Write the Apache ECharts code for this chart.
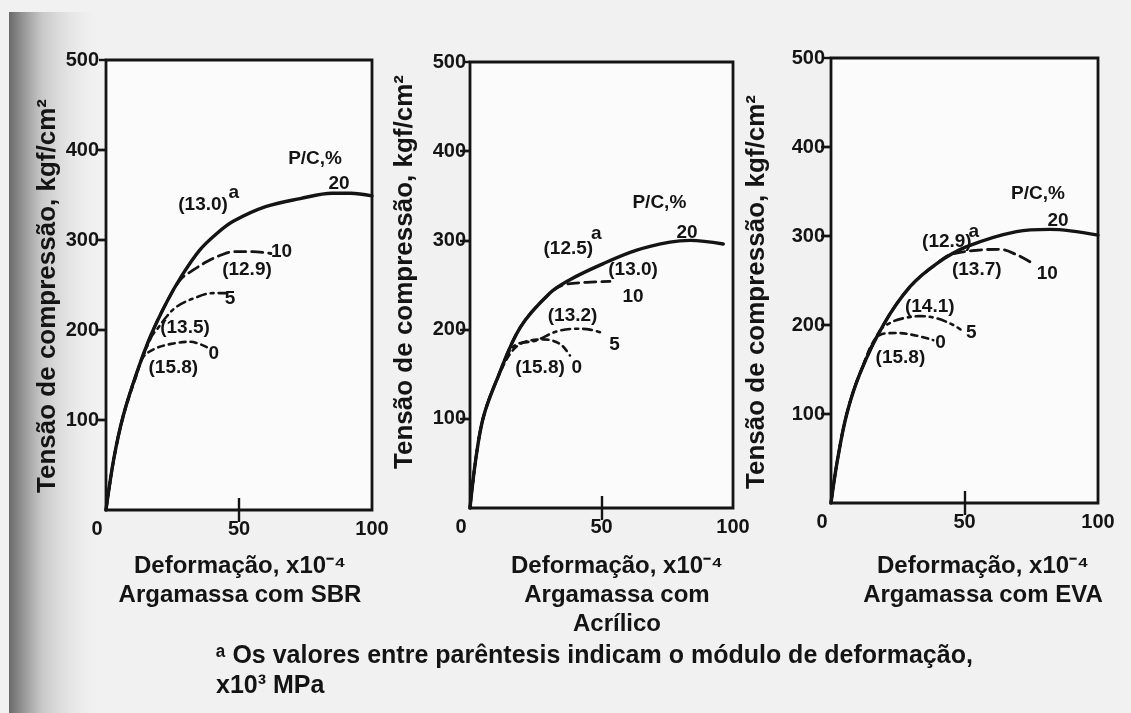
<!DOCTYPE html>
<html>
<head>
<meta charset="utf-8">
<script src="https://cdn.jsdelivr.net/npm/echarts@6/dist/echarts.min.js"></script>
<style>
html,body{margin:0;padding:0;background:#f1f1f1;}
#chart{width:1131px;height:713px;}
</style>
</head>
<body>
<div id="chart"></div>
<script>
// ---------- DATA ----------
// x: Deformação (x10^-4), y: Tensão de compressão (kgf/cm²)
const xTicks = [0, 50, 100];
const yTicks = [100, 200, 300, 400, 500];

// Argamassa com SBR
const sbr20 = [[0,0],[3,58],[6.5,105],[11.5,152],[17,195],[23,232],[28,258],[35,288],[42,308],[48,321],[60,337],[73,346],[85,352],[92,352],[100,349]];
const sbr10 = [[0,0],[3,58],[6.5,105],[11.5,152],[17,195],[23,232],[28,256],[33,267],[38,276],[43,283],[48,287],[55,287],[62,285]];
const sbr5  = [[0,0],[3,58],[6.5,105],[11.5,152],[17,192],[19.5,202],[22.8,215],[26.6,226],[32.8,235],[40.3,241],[45.4,241]];
const sbr0  = [[0,0],[3,57],[6.5,104],[11.5,150],[14,170],[19,180],[25.3,185],[31.6,187],[37.9,181]];
const sbrNotes = [
  ['P/C,%', 78.6, 390], ['20', 87.6, 362], ['(13.0)', 36.5, 339], ['a', 48, 353],
  ['(12.9)', 53, 267], ['10', 66, 287], ['5', 46.6, 235], ['(13.5)', 29.7, 203],
  ['0', 40.5, 174], ['(15.8)', 25.3, 158]
];

// Argamassa com Acrílico
const acr20 = [[0,0],[2.3,57],[5.1,102],[10.1,143],[19,202],[30.4,241],[38,256],[50.7,274],[63.4,289],[76,298],[83.7,300],[96.3,296]];
const acr10 = [[0,0],[2.3,57],[5.1,102],[10.1,143],[19,202],[30.4,241],[35.5,250],[44.4,253],[53.2,254]];
const acr5  = [[0,0],[2.3,57],[5.1,102],[10.1,143],[16.5,181],[25.3,188],[33,198],[40.6,201],[45.6,200],[50.7,196]];
const acr0  = [[0,0],[2.3,57],[5.1,102],[10.1,143],[17.7,181],[27.9,189],[34.2,184],[38,171]];
const acrNotes = [
  ['P/C,%', 72, 342], ['20', 82.5, 309], ['(12.5)', 37.4, 291], ['a', 48, 307],
  ['(13.0)', 62, 267], ['10', 62, 237], ['(13.2)', 39, 216], ['5', 55, 183],
  ['(15.8)', 26.6, 157], ['0', 40.6, 157]
];

// Argamassa com EVA
const eva20 = [[0,0],[2.4,48],[5.9,100],[10.9,146],[19.6,200],[29.6,243],[39.6,269],[50.8,288],[69.5,305],[82,307.5],[100,301]];
const eva10 = [[0,0],[2.4,48],[5.9,100],[10.9,146],[19.6,200],[29.6,243],[39.6,269],[44.6,279],[54.6,284],[63.3,285],[69.5,279],[74.5,271]];
const eva5  = [[0,0],[2.4,48],[5.9,100],[10.9,146],[18.4,194],[23.3,204],[27,207.5],[33.3,210],[39.6,207.5],[45.8,200],[48.5,195]];
const eva0  = [[0,0],[2.4,48],[5.9,100],[10.9,146],[18.4,189],[24.6,191],[32.1,188],[38.3,183]];
const evaNotes = [
  ['P/C,%', 77.5, 348], ['20', 85, 317], ['(12.9)', 43.4, 293], ['a', 53.5, 305],
  ['(13.7)', 54.6, 262], ['10', 81, 258], ['(14.1)', 37, 220], ['5', 52.5, 191],
  ['0', 41, 180], ['(15.8)', 26, 163]
];

const xTitle = 'Deformação, x10⁻⁴';
const yTitle = 'Tensão de compressão, kgf/cm²';
const panelTitles = [['Argamassa com SBR'], ['Argamassa com', 'Acrílico'], ['Argamassa com EVA']];
const footnote = ['ᵃ Os valores entre parêntesis indicam o módulo de deformação,', 'x10³ MPa'];

// ---------- LAYOUT / STYLE ----------
const FONT = "'Liberation Sans', Arial, Helvetica, sans-serif";
const INK = '#141414';
const panels = [
  {grid:{left:106, top:60, width:266, height:450}, curves:[sbr20,sbr10,sbr5,sbr0], notes:sbrNotes,
   yName:{x:48, y:296}, xName:240, labelMargin:7},
  {grid:{left:470, top:62, width:263, height:446}, curves:[acr20,acr10,acr5,acr0], notes:acrNotes,
   yName:{x:405, y:272}, xName:617, labelMargin:4},
  {grid:{left:831, top:58, width:267, height:445}, curves:[eva20,eva10,eva5,eva0], notes:evaNotes,
   yName:{x:757, y:292}, xName:983, labelMargin:6}
];
const curveStyles = [
  {width:3.4, type:'solid'},
  {width:2.8, type:[11,6]},
  {width:2.6, type:[9,5,3,5]},
  {width:2.6, type:[6,5]}
];

const grids = [], xAxes = [], yAxes = [], series = [], graphics = [];

graphics.push({type:'rect', z:-10, shape:{x:9, y:12, width:95, height:701},
  style:{fill:new echarts.graphic.LinearGradient(0,0,1,0,[
    {offset:0, color:'rgba(105,105,105,1)'},
    {offset:0.35, color:'rgba(190,190,190,0.8)'},
    {offset:1, color:'rgba(241,241,241,0)'}])}, silent:true});

panels.forEach((p, i) => {
  grids.push(Object.assign({show:true, borderColor:INK, borderWidth:2.8, backgroundColor:'#fbfbfb'}, p.grid));
  const tickStyle = {color:INK, width:2.4};
  xAxes.push({type:'value', gridIndex:i, position:'bottom', min:0, max:100, interval:50,
    axisLine:{show:false}, splitLine:{show:false},
    axisTick:{show:true, inside:true, length:12, lineStyle:tickStyle, customValues:[50]},
    axisLabel:{show:true, margin:9, color:INK, fontFamily:FONT, fontSize:20, fontWeight:'bold',
      showMinLabel:true, showMaxLabel:true,
      formatter: v => v === 0 ? '{z|0}' : String(v),
      rich:{z:{fontFamily:FONT, fontSize:20, fontWeight:'bold', color:INK, padding:[0,18,0,0]}}}});
  xAxes.push({type:'value', gridIndex:i, position:'top', min:0, max:100, interval:50,
    axisLine:{show:false}, splitLine:{show:false}, axisLabel:{show:false},
    axisTick:{show:true, inside:true, length:12, lineStyle:tickStyle, customValues:[50]}});
  yAxes.push({type:'value', gridIndex:i, position:'left', min:0, max:500, interval:100,
    axisLine:{show:false}, splitLine:{show:false},
    axisTick:{show:true, inside:false, length:7, lineStyle:tickStyle, customValues:yTicks},
    axisLabel:{show:true, margin:p.labelMargin, color:INK, fontFamily:FONT, fontSize:20, fontWeight:'bold',
      formatter: v => yTicks.includes(v) ? String(v) : ''}});
  yAxes.push({type:'value', gridIndex:i, position:'right', min:0, max:500, interval:100,
    axisLine:{show:false}, splitLine:{show:false}, axisLabel:{show:false},
    axisTick:{show:true, inside:true, length:10, lineStyle:tickStyle, customValues:[100,200,300,400]}});

  p.curves.forEach((d, k) => {
    series.push({type:'line', xAxisIndex:2*i, yAxisIndex:2*i, data:d, smooth:0.35,
      showSymbol:false, symbol:'none', silent:true, z:10 - k,
      lineStyle:{color:INK, width:curveStyles[k].width, type:curveStyles[k].type, cap:'round'}});
  });
  series.push({type:'scatter', xAxisIndex:2*i, yAxisIndex:2*i, symbolSize:0, silent:true, z:20,
    itemStyle:{color:'rgba(0,0,0,0)', opacity:1},
    data:p.notes.map(n => ({name:n[0], value:[n[1], n[2]]})),
    label:{show:true, position:'inside', formatter:'{b}', color:INK, opacity:1, fontFamily:FONT,
      fontSize:19, fontWeight:'bold', textBorderWidth:0, textBorderColor:'transparent'}});

  graphics.push({type:'text', x:p.yName.x, y:p.yName.y, rotation:Math.PI/2, silent:true,
    style:{text:yTitle, fill:INK, fontFamily:FONT, fontSize:26, fontWeight:'bold',
      textAlign:'center', textVerticalAlign:'middle'}});
  const lines = [xTitle].concat(panelTitles[i]);
  lines.forEach((t, j) => {
    graphics.push({type:'text', x:p.xName, y:566 + j*29, silent:true,
      style:{text:t, fill:INK, fontFamily:FONT, fontSize:24, fontWeight:'bold',
        textAlign:'center', textVerticalAlign:'middle'}});
  });
});

footnote.forEach((t, j) => {
  graphics.push({type:'text', x:216, y:656 + j*30, silent:true,
    style:{text:t, fill:INK, fontFamily:FONT, fontSize:25, fontWeight:'bold',
      textAlign:'left', textVerticalAlign:'middle'}});
});

const chart = echarts.init(document.getElementById('chart'), null, {renderer:'canvas'});
chart.setOption({
  backgroundColor:'#f1f1f1',
  animation:false,
  grid:grids, xAxis:xAxes, yAxis:yAxes, series:series, graphic:graphics
});
</script>
</body>
</html>
